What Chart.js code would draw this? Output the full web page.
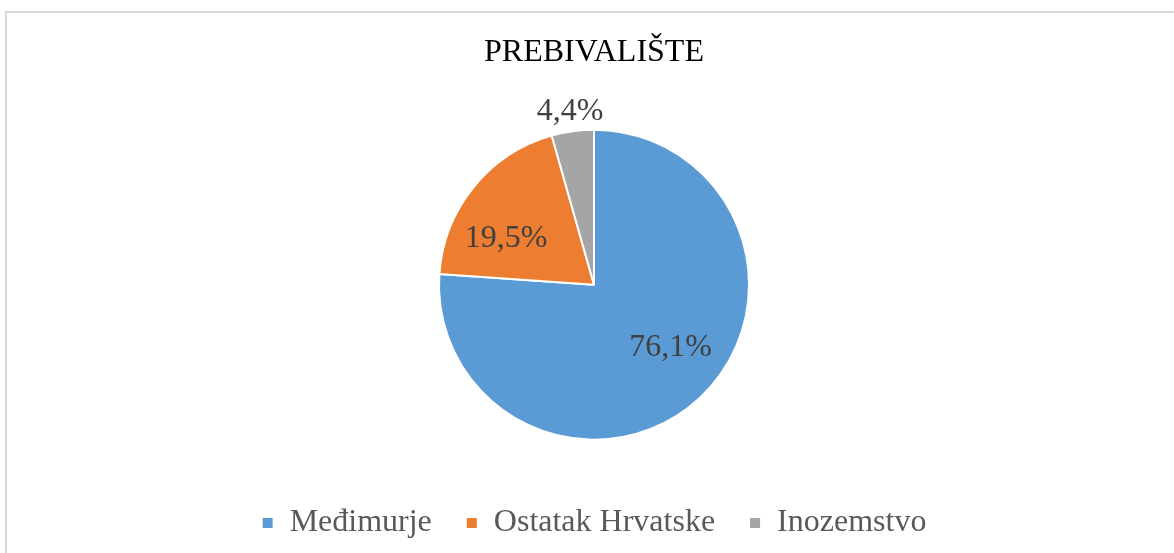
<!DOCTYPE html>
<html>
<head>
<meta charset="utf-8">
<script src="https://cdn.jsdelivr.net/npm/chart.js@4"></script>
<style>
  html, body { margin: 0; padding: 0; background: #fff; overflow: hidden; }
  #frame { position: absolute; left: 5px; top: 11px; width: 1400px; height: 800px; border: 2px solid #d9d9d9; box-sizing: border-box; }
  #wrap { position: absolute; left: 0; top: 0; width: 1174px; height: 553px; }
</style>
</head>
<body>
<div id="frame"></div>
<div id="wrap"><canvas id="pieChart"></canvas></div>
<script>
// Podaci grafikona
const categories = ['Međimurje', 'Ostatak Hrvatske', 'Inozemstvo'];
const shares = [76.1, 19.5, 4.4];
const sliceColors = ['#5b9bd5', '#ed7d31', '#a5a5a5'];

// Položaj oznaka (udio radijusa, pomak kuta u stupnjevima)
const labelPlace = [
    { r: 0.64, da: -7.5 },
    { r: 0.64, da: -11.5 },
    { r: 1.125, da: 0 }
];

const serif = '"Liberation Serif", "Times New Roman", serif';

const pieLabels = {
    id: 'pieLabels',
    afterDatasetsDraw(chart) {
        const ctx = chart.ctx;
        const meta = chart.getDatasetMeta(0);
        ctx.save();
        ctx.font = '32px ' + serif;
        ctx.fillStyle = '#404040';
        ctx.textAlign = 'center';
        ctx.textBaseline = 'middle';
        meta.data.forEach((arc, i) => {
            const p = arc.getProps(['x', 'y', 'startAngle', 'endAngle', 'outerRadius'], true);
            const mid = (p.startAngle + p.endAngle) / 2 + labelPlace[i].da * Math.PI / 180;
            const rr = p.outerRadius * labelPlace[i].r;
            const txt = shares[i].toFixed(1).replace('.', ',') + '%';
            ctx.fillText(txt, p.x + Math.cos(mid) * rr, p.y + Math.sin(mid) * rr);
        });
        ctx.restore();
    }
};

const ctx = document.getElementById('pieChart').getContext('2d');
const pieChart = new Chart(ctx, {
    type: 'pie',
    data: {
        labels: categories,
        datasets: [{
            data: shares,
            backgroundColor: sliceColors,
            borderColor: '#ffffff',
            borderWidth: 2,
            radius: 155
        }]
    },
    options: {
        responsive: true,
        maintainAspectRatio: false,
        animation: false,
        layout: { padding: { left: 14, right: 0, top: 0, bottom: 4 } },
        plugins: {
            title: {
                display: true,
                text: 'PREBIVALIŠTE',
                color: '#000000',
                font: { family: serif, size: 32, weight: 'normal' },
                padding: { top: 33, bottom: 25 }
            },
            legend: {
                position: 'bottom',
                labels: {
                    boxWidth: 12,
                    boxHeight: 12,
                    padding: 34,
                    color: '#595959',
                    font: { family: serif, size: 32 }
                }
            },
            tooltip: { enabled: false }
        }
    },
    plugins: [pieLabels]
});
</script>
</body>
</html>
